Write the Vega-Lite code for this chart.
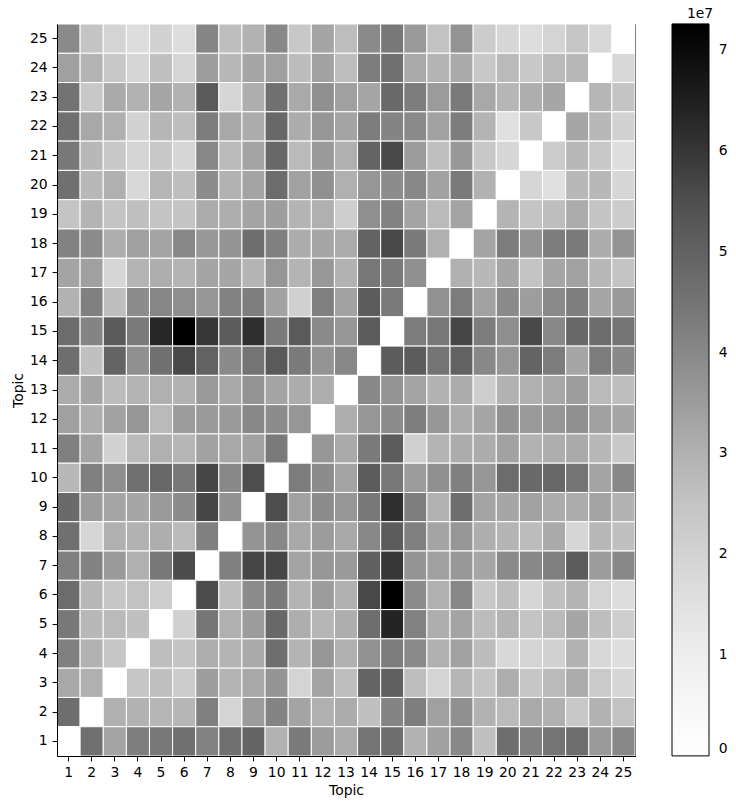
{
"$schema": "https://vega.github.io/schema/vega-lite/v6.json",
"width": 578, "height": 732,
"autosize": {"type": "none"},
"padding": {"left": 57, "top": 24, "right": 101, "bottom": 53},
"background": "white",
"config": {
 "font": "DejaVu Sans",
 "view": {"stroke": "black", "strokeWidth": 1},
 "axis": {"labelFont": "DejaVu Sans", "labelFontSize": 13.9, "labelColor": "black", "titleFont": "DejaVu Sans", "titleFontSize": 13.9, "titleFontWeight": "normal", "titleColor": "black", "tickColor": "black", "tickSize": 4.9, "tickWidth": 1, "labelPadding": 4.9, "domainColor": "black", "domainWidth": 1, "grid": false}
},
"data": {"values": [
{"y":25,"x":1,"v":3.94e7},{"y":25,"x":2,"v":2.49e7},{"y":25,"x":3,"v":1.97e7},{"y":25,"x":4,"v":1.66e7},{"y":25,"x":5,"v":2.04e7},{"y":25,"x":6,"v":1.66e7},{"y":25,"x":7,"v":4.07e7},{"y":25,"x":8,"v":2.69e7},{"y":25,"x":9,"v":2.97e7},{"y":25,"x":10,"v":3.99e7},{"y":25,"x":11,"v":2.36e7},{"y":25,"x":12,"v":3.30e7},{"y":25,"x":13,"v":2.72e7},{"y":25,"x":14,"v":3.94e7},{"y":25,"x":15,"v":4.40e7},{"y":25,"x":16,"v":3.53e7},{"y":25,"x":17,"v":2.56e7},{"y":25,"x":18,"v":3.70e7},{"y":25,"x":19,"v":2.23e7},{"y":25,"x":20,"v":1.91e7},{"y":25,"x":21,"v":1.66e7},{"y":25,"x":22,"v":1.97e7},{"y":25,"x":23,"v":2.43e7},{"y":25,"x":24,"v":1.84e7},{"y":25,"x":25,"v":0},
{"y":24,"x":1,"v":3.39e7},{"y":24,"x":2,"v":2.93e7},{"y":24,"x":3,"v":2.36e7},{"y":24,"x":4,"v":1.91e7},{"y":24,"x":5,"v":2.62e7},{"y":24,"x":6,"v":1.91e7},{"y":24,"x":7,"v":3.44e7},{"y":24,"x":8,"v":2.84e7},{"y":24,"x":9,"v":3.25e7},{"y":24,"x":10,"v":3.39e7},{"y":24,"x":11,"v":2.74e7},{"y":24,"x":12,"v":3.35e7},{"y":24,"x":13,"v":2.69e7},{"y":24,"x":14,"v":4.27e7},{"y":24,"x":15,"v":4.61e7},{"y":24,"x":16,"v":3.16e7},{"y":24,"x":17,"v":2.93e7},{"y":24,"x":18,"v":3.16e7},{"y":24,"x":19,"v":2.36e7},{"y":24,"x":20,"v":2.79e7},{"y":24,"x":21,"v":2.36e7},{"y":24,"x":22,"v":2.79e7},{"y":24,"x":23,"v":2.84e7},{"y":24,"x":24,"v":0},{"y":24,"x":25,"v":1.84e7},
{"y":23,"x":1,"v":4.53e7},{"y":23,"x":2,"v":2.36e7},{"y":23,"x":3,"v":3.16e7},{"y":23,"x":4,"v":2.97e7},{"y":23,"x":5,"v":3.25e7},{"y":23,"x":6,"v":2.97e7},{"y":23,"x":7,"v":5.22e7},{"y":23,"x":8,"v":1.91e7},{"y":23,"x":9,"v":3.07e7},{"y":23,"x":10,"v":4.61e7},{"y":23,"x":11,"v":3.16e7},{"y":23,"x":12,"v":3.78e7},{"y":23,"x":13,"v":3.39e7},{"y":23,"x":14,"v":3.28e7},{"y":23,"x":15,"v":4.81e7},{"y":23,"x":16,"v":4.27e7},{"y":23,"x":17,"v":3.51e7},{"y":23,"x":18,"v":4.35e7},{"y":23,"x":19,"v":3.21e7},{"y":23,"x":20,"v":2.88e7},{"y":23,"x":21,"v":3.07e7},{"y":23,"x":22,"v":3.25e7},{"y":23,"x":23,"v":0},{"y":23,"x":24,"v":2.88e7},{"y":23,"x":25,"v":2.49e7},
{"y":22,"x":1,"v":4.61e7},{"y":22,"x":2,"v":3.21e7},{"y":22,"x":3,"v":3.02e7},{"y":22,"x":4,"v":2.04e7},{"y":22,"x":5,"v":2.88e7},{"y":22,"x":6,"v":2.69e7},{"y":22,"x":7,"v":4.30e7},{"y":22,"x":8,"v":3.21e7},{"y":22,"x":9,"v":3.11e7},{"y":22,"x":10,"v":4.83e7},{"y":22,"x":11,"v":3.11e7},{"y":22,"x":12,"v":3.63e7},{"y":22,"x":13,"v":3.30e7},{"y":22,"x":14,"v":4.27e7},{"y":22,"x":15,"v":4.09e7},{"y":22,"x":16,"v":3.94e7},{"y":22,"x":17,"v":3.35e7},{"y":22,"x":18,"v":4.27e7},{"y":22,"x":19,"v":2.93e7},{"y":22,"x":20,"v":1.54e7},{"y":22,"x":21,"v":2.36e7},{"y":22,"x":22,"v":0},{"y":22,"x":23,"v":3.25e7},{"y":22,"x":24,"v":2.84e7},{"y":22,"x":25,"v":2.04e7},
{"y":21,"x":1,"v":4.40e7},{"y":21,"x":2,"v":2.84e7},{"y":21,"x":3,"v":2.36e7},{"y":21,"x":4,"v":1.97e7},{"y":21,"x":5,"v":2.36e7},{"y":21,"x":6,"v":1.91e7},{"y":21,"x":7,"v":3.99e7},{"y":21,"x":8,"v":2.79e7},{"y":21,"x":9,"v":3.30e7},{"y":21,"x":10,"v":4.83e7},{"y":21,"x":11,"v":2.79e7},{"y":21,"x":12,"v":3.53e7},{"y":21,"x":13,"v":3.02e7},{"y":21,"x":14,"v":4.94e7},{"y":21,"x":15,"v":5.64e7},{"y":21,"x":16,"v":3.49e7},{"y":21,"x":17,"v":2.62e7},{"y":21,"x":18,"v":3.58e7},{"y":21,"x":19,"v":2.36e7},{"y":21,"x":20,"v":1.91e7},{"y":21,"x":21,"v":0},{"y":21,"x":22,"v":2.23e7},{"y":21,"x":23,"v":2.84e7},{"y":21,"x":24,"v":2.36e7},{"y":21,"x":25,"v":1.62e7},
{"y":20,"x":1,"v":4.61e7},{"y":20,"x":2,"v":2.84e7},{"y":20,"x":3,"v":3.02e7},{"y":20,"x":4,"v":1.84e7},{"y":20,"x":5,"v":2.88e7},{"y":20,"x":6,"v":2.69e7},{"y":20,"x":7,"v":3.88e7},{"y":20,"x":8,"v":2.97e7},{"y":20,"x":9,"v":3.30e7},{"y":20,"x":10,"v":4.72e7},{"y":20,"x":11,"v":3.35e7},{"y":20,"x":12,"v":3.78e7},{"y":20,"x":13,"v":3.02e7},{"y":20,"x":14,"v":3.63e7},{"y":20,"x":15,"v":3.88e7},{"y":20,"x":16,"v":3.99e7},{"y":20,"x":17,"v":3.35e7},{"y":20,"x":18,"v":4.35e7},{"y":20,"x":19,"v":2.97e7},{"y":20,"x":20,"v":0},{"y":20,"x":21,"v":1.91e7},{"y":20,"x":22,"v":1.54e7},{"y":20,"x":23,"v":2.84e7},{"y":20,"x":24,"v":2.84e7},{"y":20,"x":25,"v":1.91e7},
{"y":19,"x":1,"v":2.49e7},{"y":19,"x":2,"v":2.93e7},{"y":19,"x":3,"v":2.49e7},{"y":19,"x":4,"v":2.62e7},{"y":19,"x":5,"v":2.49e7},{"y":19,"x":6,"v":2.49e7},{"y":19,"x":7,"v":3.11e7},{"y":19,"x":8,"v":3.07e7},{"y":19,"x":9,"v":3.30e7},{"y":19,"x":10,"v":3.44e7},{"y":19,"x":11,"v":2.93e7},{"y":19,"x":12,"v":3.02e7},{"y":19,"x":13,"v":2.17e7},{"y":19,"x":14,"v":3.78e7},{"y":19,"x":15,"v":4.14e7},{"y":19,"x":16,"v":3.30e7},{"y":19,"x":17,"v":2.79e7},{"y":19,"x":18,"v":3.30e7},{"y":19,"x":19,"v":0},{"y":19,"x":20,"v":2.93e7},{"y":19,"x":21,"v":2.49e7},{"y":19,"x":22,"v":2.69e7},{"y":19,"x":23,"v":3.11e7},{"y":19,"x":24,"v":2.49e7},{"y":19,"x":25,"v":2.23e7},
{"y":18,"x":1,"v":4.14e7},{"y":18,"x":2,"v":3.88e7},{"y":18,"x":3,"v":3.07e7},{"y":18,"x":4,"v":3.39e7},{"y":18,"x":5,"v":3.30e7},{"y":18,"x":6,"v":3.99e7},{"y":18,"x":7,"v":3.58e7},{"y":18,"x":8,"v":3.68e7},{"y":18,"x":9,"v":4.67e7},{"y":18,"x":10,"v":4.20e7},{"y":18,"x":11,"v":3.11e7},{"y":18,"x":12,"v":3.25e7},{"y":18,"x":13,"v":3.11e7},{"y":18,"x":14,"v":5.00e7},{"y":18,"x":15,"v":5.64e7},{"y":18,"x":16,"v":4.35e7},{"y":18,"x":17,"v":3.02e7},{"y":18,"x":18,"v":0},{"y":18,"x":19,"v":3.30e7},{"y":18,"x":20,"v":4.27e7},{"y":18,"x":21,"v":3.68e7},{"y":18,"x":22,"v":4.27e7},{"y":18,"x":23,"v":4.35e7},{"y":18,"x":24,"v":3.11e7},{"y":18,"x":25,"v":3.68e7},
{"y":17,"x":1,"v":3.30e7},{"y":17,"x":2,"v":3.39e7},{"y":17,"x":3,"v":1.91e7},{"y":17,"x":4,"v":2.93e7},{"y":17,"x":5,"v":3.07e7},{"y":17,"x":6,"v":2.93e7},{"y":17,"x":7,"v":3.30e7},{"y":17,"x":8,"v":3.25e7},{"y":17,"x":9,"v":2.93e7},{"y":17,"x":10,"v":3.63e7},{"y":17,"x":11,"v":2.93e7},{"y":17,"x":12,"v":3.58e7},{"y":17,"x":13,"v":2.97e7},{"y":17,"x":14,"v":4.40e7},{"y":17,"x":15,"v":4.35e7},{"y":17,"x":16,"v":3.78e7},{"y":17,"x":17,"v":0},{"y":17,"x":18,"v":3.02e7},{"y":17,"x":19,"v":2.84e7},{"y":17,"x":20,"v":3.25e7},{"y":17,"x":21,"v":2.49e7},{"y":17,"x":22,"v":3.25e7},{"y":17,"x":23,"v":3.35e7},{"y":17,"x":24,"v":2.84e7},{"y":17,"x":25,"v":2.49e7},
{"y":16,"x":1,"v":2.97e7},{"y":16,"x":2,"v":4.20e7},{"y":16,"x":3,"v":2.69e7},{"y":16,"x":4,"v":3.88e7},{"y":16,"x":5,"v":4.04e7},{"y":16,"x":6,"v":3.83e7},{"y":16,"x":7,"v":3.63e7},{"y":16,"x":8,"v":4.14e7},{"y":16,"x":9,"v":4.25e7},{"y":16,"x":10,"v":3.35e7},{"y":16,"x":11,"v":2.10e7},{"y":16,"x":12,"v":4.20e7},{"y":16,"x":13,"v":3.35e7},{"y":16,"x":14,"v":5.16e7},{"y":16,"x":15,"v":4.35e7},{"y":16,"x":16,"v":0},{"y":16,"x":17,"v":3.73e7},{"y":16,"x":18,"v":4.30e7},{"y":16,"x":19,"v":3.35e7},{"y":16,"x":20,"v":3.94e7},{"y":16,"x":21,"v":3.44e7},{"y":16,"x":22,"v":3.94e7},{"y":16,"x":23,"v":4.25e7},{"y":16,"x":24,"v":3.25e7},{"y":16,"x":25,"v":3.53e7},
{"y":15,"x":1,"v":4.72e7},{"y":15,"x":2,"v":4.09e7},{"y":15,"x":3,"v":5.22e7},{"y":15,"x":4,"v":4.35e7},{"y":15,"x":5,"v":6.32e7},{"y":15,"x":6,"v":7.26e7},{"y":15,"x":7,"v":5.98e7},{"y":15,"x":8,"v":5.16e7},{"y":15,"x":9,"v":6.18e7},{"y":15,"x":10,"v":4.35e7},{"y":15,"x":11,"v":5.22e7},{"y":15,"x":12,"v":3.94e7},{"y":15,"x":13,"v":3.63e7},{"y":15,"x":14,"v":5.16e7},{"y":15,"x":15,"v":0},{"y":15,"x":16,"v":4.30e7},{"y":15,"x":17,"v":4.40e7},{"y":15,"x":18,"v":5.68e7},{"y":15,"x":19,"v":4.30e7},{"y":15,"x":20,"v":3.83e7},{"y":15,"x":21,"v":5.64e7},{"y":15,"x":22,"v":3.99e7},{"y":15,"x":23,"v":4.83e7},{"y":15,"x":24,"v":4.72e7},{"y":15,"x":25,"v":4.51e7},
{"y":14,"x":1,"v":4.67e7},{"y":14,"x":2,"v":2.62e7},{"y":14,"x":3,"v":4.94e7},{"y":14,"x":4,"v":3.78e7},{"y":14,"x":5,"v":4.61e7},{"y":14,"x":6,"v":5.64e7},{"y":14,"x":7,"v":5.00e7},{"y":14,"x":8,"v":3.94e7},{"y":14,"x":9,"v":4.51e7},{"y":14,"x":10,"v":5.22e7},{"y":14,"x":11,"v":4.35e7},{"y":14,"x":12,"v":3.68e7},{"y":14,"x":13,"v":3.99e7},{"y":14,"x":14,"v":0},{"y":14,"x":15,"v":5.16e7},{"y":14,"x":16,"v":5.16e7},{"y":14,"x":17,"v":4.51e7},{"y":14,"x":18,"v":5.00e7},{"y":14,"x":19,"v":3.99e7},{"y":14,"x":20,"v":3.63e7},{"y":14,"x":21,"v":4.94e7},{"y":14,"x":22,"v":4.30e7},{"y":14,"x":23,"v":3.25e7},{"y":14,"x":24,"v":4.30e7},{"y":14,"x":25,"v":3.99e7},
{"y":13,"x":1,"v":3.11e7},{"y":13,"x":2,"v":3.25e7},{"y":13,"x":3,"v":2.74e7},{"y":13,"x":4,"v":2.93e7},{"y":13,"x":5,"v":3.02e7},{"y":13,"x":6,"v":2.97e7},{"y":13,"x":7,"v":3.53e7},{"y":13,"x":8,"v":3.21e7},{"y":13,"x":9,"v":3.68e7},{"y":13,"x":10,"v":3.30e7},{"y":13,"x":11,"v":3.11e7},{"y":13,"x":12,"v":3.07e7},{"y":13,"x":13,"v":0},{"y":13,"x":14,"v":3.99e7},{"y":13,"x":15,"v":3.68e7},{"y":13,"x":16,"v":3.30e7},{"y":13,"x":17,"v":2.97e7},{"y":13,"x":18,"v":3.11e7},{"y":13,"x":19,"v":2.17e7},{"y":13,"x":20,"v":2.97e7},{"y":13,"x":21,"v":3.02e7},{"y":13,"x":22,"v":3.21e7},{"y":13,"x":23,"v":3.44e7},{"y":13,"x":24,"v":2.79e7},{"y":13,"x":25,"v":2.69e7},
{"y":12,"x":1,"v":3.39e7},{"y":12,"x":2,"v":3.07e7},{"y":12,"x":3,"v":3.35e7},{"y":12,"x":4,"v":3.63e7},{"y":12,"x":5,"v":2.79e7},{"y":12,"x":6,"v":3.49e7},{"y":12,"x":7,"v":3.53e7},{"y":12,"x":8,"v":3.53e7},{"y":12,"x":9,"v":3.99e7},{"y":12,"x":10,"v":3.88e7},{"y":12,"x":11,"v":3.63e7},{"y":12,"x":12,"v":0},{"y":12,"x":13,"v":3.07e7},{"y":12,"x":14,"v":3.63e7},{"y":12,"x":15,"v":3.88e7},{"y":12,"x":16,"v":4.25e7},{"y":12,"x":17,"v":3.63e7},{"y":12,"x":18,"v":3.11e7},{"y":12,"x":19,"v":3.25e7},{"y":12,"x":20,"v":3.73e7},{"y":12,"x":21,"v":3.53e7},{"y":12,"x":22,"v":3.63e7},{"y":12,"x":23,"v":3.78e7},{"y":12,"x":24,"v":3.39e7},{"y":12,"x":25,"v":3.25e7},
{"y":11,"x":1,"v":4.20e7},{"y":11,"x":2,"v":3.30e7},{"y":11,"x":3,"v":2.04e7},{"y":11,"x":4,"v":2.79e7},{"y":11,"x":5,"v":3.02e7},{"y":11,"x":6,"v":2.88e7},{"y":11,"x":7,"v":3.35e7},{"y":11,"x":8,"v":3.21e7},{"y":11,"x":9,"v":3.35e7},{"y":11,"x":10,"v":4.35e7},{"y":11,"x":11,"v":0},{"y":11,"x":12,"v":3.63e7},{"y":11,"x":13,"v":3.16e7},{"y":11,"x":14,"v":4.35e7},{"y":11,"x":15,"v":5.16e7},{"y":11,"x":16,"v":2.10e7},{"y":11,"x":17,"v":2.93e7},{"y":11,"x":18,"v":3.11e7},{"y":11,"x":19,"v":3.11e7},{"y":11,"x":20,"v":3.35e7},{"y":11,"x":21,"v":2.97e7},{"y":11,"x":22,"v":3.07e7},{"y":11,"x":23,"v":3.16e7},{"y":11,"x":24,"v":2.84e7},{"y":11,"x":25,"v":2.36e7},
{"y":10,"x":1,"v":2.84e7},{"y":10,"x":2,"v":4.20e7},{"y":10,"x":3,"v":3.83e7},{"y":10,"x":4,"v":4.61e7},{"y":10,"x":5,"v":4.83e7},{"y":10,"x":6,"v":4.40e7},{"y":10,"x":7,"v":5.68e7},{"y":10,"x":8,"v":3.99e7},{"y":10,"x":9,"v":5.52e7},{"y":10,"x":10,"v":0},{"y":10,"x":11,"v":4.30e7},{"y":10,"x":12,"v":3.88e7},{"y":10,"x":13,"v":3.30e7},{"y":10,"x":14,"v":5.16e7},{"y":10,"x":15,"v":4.40e7},{"y":10,"x":16,"v":3.49e7},{"y":10,"x":17,"v":3.78e7},{"y":10,"x":18,"v":4.20e7},{"y":10,"x":19,"v":3.63e7},{"y":10,"x":20,"v":4.72e7},{"y":10,"x":21,"v":4.78e7},{"y":10,"x":22,"v":4.83e7},{"y":10,"x":23,"v":4.51e7},{"y":10,"x":24,"v":3.30e7},{"y":10,"x":25,"v":3.99e7},
{"y":9,"x":1,"v":4.78e7},{"y":9,"x":2,"v":3.49e7},{"y":9,"x":3,"v":3.25e7},{"y":9,"x":4,"v":3.25e7},{"y":9,"x":5,"v":3.53e7},{"y":9,"x":6,"v":3.88e7},{"y":9,"x":7,"v":5.68e7},{"y":9,"x":8,"v":3.73e7},{"y":9,"x":9,"v":0},{"y":9,"x":10,"v":5.52e7},{"y":9,"x":11,"v":3.35e7},{"y":9,"x":12,"v":3.88e7},{"y":9,"x":13,"v":3.63e7},{"y":9,"x":14,"v":4.40e7},{"y":9,"x":15,"v":6.18e7},{"y":9,"x":16,"v":4.25e7},{"y":9,"x":17,"v":2.97e7},{"y":9,"x":18,"v":4.67e7},{"y":9,"x":19,"v":3.30e7},{"y":9,"x":20,"v":3.25e7},{"y":9,"x":21,"v":3.35e7},{"y":9,"x":22,"v":3.11e7},{"y":9,"x":23,"v":3.11e7},{"y":9,"x":24,"v":3.30e7},{"y":9,"x":25,"v":2.97e7},
{"y":8,"x":1,"v":4.61e7},{"y":8,"x":2,"v":1.91e7},{"y":8,"x":3,"v":3.02e7},{"y":8,"x":4,"v":2.97e7},{"y":8,"x":5,"v":3.07e7},{"y":8,"x":6,"v":2.79e7},{"y":8,"x":7,"v":4.20e7},{"y":8,"x":8,"v":0},{"y":8,"x":9,"v":3.68e7},{"y":8,"x":10,"v":3.99e7},{"y":8,"x":11,"v":3.21e7},{"y":8,"x":12,"v":3.49e7},{"y":8,"x":13,"v":3.21e7},{"y":8,"x":14,"v":3.99e7},{"y":8,"x":15,"v":5.16e7},{"y":8,"x":16,"v":4.20e7},{"y":8,"x":17,"v":3.30e7},{"y":8,"x":18,"v":3.63e7},{"y":8,"x":19,"v":3.07e7},{"y":8,"x":20,"v":2.93e7},{"y":8,"x":21,"v":2.74e7},{"y":8,"x":22,"v":3.16e7},{"y":8,"x":23,"v":1.91e7},{"y":8,"x":24,"v":2.84e7},{"y":8,"x":25,"v":2.62e7},
{"y":7,"x":1,"v":4.20e7},{"y":7,"x":2,"v":4.14e7},{"y":7,"x":3,"v":3.53e7},{"y":7,"x":4,"v":3.02e7},{"y":7,"x":5,"v":4.40e7},{"y":7,"x":6,"v":5.56e7},{"y":7,"x":7,"v":0},{"y":7,"x":8,"v":4.20e7},{"y":7,"x":9,"v":5.68e7},{"y":7,"x":10,"v":5.68e7},{"y":7,"x":11,"v":3.30e7},{"y":7,"x":12,"v":3.63e7},{"y":7,"x":13,"v":3.53e7},{"y":7,"x":14,"v":5.05e7},{"y":7,"x":15,"v":5.98e7},{"y":7,"x":16,"v":3.68e7},{"y":7,"x":17,"v":3.39e7},{"y":7,"x":18,"v":3.58e7},{"y":7,"x":19,"v":3.25e7},{"y":7,"x":20,"v":3.94e7},{"y":7,"x":21,"v":3.99e7},{"y":7,"x":22,"v":4.20e7},{"y":7,"x":23,"v":5.16e7},{"y":7,"x":24,"v":3.49e7},{"y":7,"x":25,"v":3.99e7},
{"y":6,"x":1,"v":4.72e7},{"y":6,"x":2,"v":2.84e7},{"y":6,"x":3,"v":2.43e7},{"y":6,"x":4,"v":2.56e7},{"y":6,"x":5,"v":2.17e7},{"y":6,"x":6,"v":0},{"y":6,"x":7,"v":5.56e7},{"y":6,"x":8,"v":2.69e7},{"y":6,"x":9,"v":3.88e7},{"y":6,"x":10,"v":4.35e7},{"y":6,"x":11,"v":2.93e7},{"y":6,"x":12,"v":3.49e7},{"y":6,"x":13,"v":3.02e7},{"y":6,"x":14,"v":5.64e7},{"y":6,"x":15,"v":7.26e7},{"y":6,"x":16,"v":3.88e7},{"y":6,"x":17,"v":3.02e7},{"y":6,"x":18,"v":3.99e7},{"y":6,"x":19,"v":2.36e7},{"y":6,"x":20,"v":2.69e7},{"y":6,"x":21,"v":1.91e7},{"y":6,"x":22,"v":2.62e7},{"y":6,"x":23,"v":2.93e7},{"y":6,"x":24,"v":1.97e7},{"y":6,"x":25,"v":1.69e7},
{"y":5,"x":1,"v":4.40e7},{"y":5,"x":2,"v":2.84e7},{"y":5,"x":3,"v":2.79e7},{"y":5,"x":4,"v":2.62e7},{"y":5,"x":5,"v":0},{"y":5,"x":6,"v":2.10e7},{"y":5,"x":7,"v":4.45e7},{"y":5,"x":8,"v":3.02e7},{"y":5,"x":9,"v":3.49e7},{"y":5,"x":10,"v":4.83e7},{"y":5,"x":11,"v":3.07e7},{"y":5,"x":12,"v":2.88e7},{"y":5,"x":13,"v":3.07e7},{"y":5,"x":14,"v":4.67e7},{"y":5,"x":15,"v":6.37e7},{"y":5,"x":16,"v":4.14e7},{"y":5,"x":17,"v":3.07e7},{"y":5,"x":18,"v":3.30e7},{"y":5,"x":19,"v":2.74e7},{"y":5,"x":20,"v":2.93e7},{"y":5,"x":21,"v":2.49e7},{"y":5,"x":22,"v":2.79e7},{"y":5,"x":23,"v":3.25e7},{"y":5,"x":24,"v":2.69e7},{"y":5,"x":25,"v":2.17e7},
{"y":4,"x":1,"v":4.20e7},{"y":4,"x":2,"v":2.97e7},{"y":4,"x":3,"v":2.43e7},{"y":4,"x":4,"v":0},{"y":4,"x":5,"v":2.69e7},{"y":4,"x":6,"v":2.49e7},{"y":4,"x":7,"v":3.07e7},{"y":4,"x":8,"v":2.93e7},{"y":4,"x":9,"v":3.16e7},{"y":4,"x":10,"v":4.67e7},{"y":4,"x":11,"v":2.93e7},{"y":4,"x":12,"v":3.63e7},{"y":4,"x":13,"v":3.02e7},{"y":4,"x":14,"v":3.73e7},{"y":4,"x":15,"v":4.30e7},{"y":4,"x":16,"v":3.94e7},{"y":4,"x":17,"v":3.02e7},{"y":4,"x":18,"v":3.35e7},{"y":4,"x":19,"v":2.74e7},{"y":4,"x":20,"v":1.84e7},{"y":4,"x":21,"v":1.97e7},{"y":4,"x":22,"v":2.04e7},{"y":4,"x":23,"v":2.97e7},{"y":4,"x":24,"v":1.84e7},{"y":4,"x":25,"v":1.62e7},
{"y":3,"x":1,"v":3.21e7},{"y":3,"x":2,"v":3.02e7},{"y":3,"x":3,"v":0},{"y":3,"x":4,"v":2.43e7},{"y":3,"x":5,"v":2.62e7},{"y":3,"x":6,"v":2.23e7},{"y":3,"x":7,"v":3.44e7},{"y":3,"x":8,"v":2.93e7},{"y":3,"x":9,"v":3.21e7},{"y":3,"x":10,"v":3.68e7},{"y":3,"x":11,"v":1.97e7},{"y":3,"x":12,"v":3.30e7},{"y":3,"x":13,"v":2.69e7},{"y":3,"x":14,"v":4.94e7},{"y":3,"x":15,"v":5.05e7},{"y":3,"x":16,"v":2.69e7},{"y":3,"x":17,"v":1.97e7},{"y":3,"x":18,"v":2.88e7},{"y":3,"x":19,"v":2.49e7},{"y":3,"x":20,"v":3.07e7},{"y":3,"x":21,"v":2.43e7},{"y":3,"x":22,"v":2.79e7},{"y":3,"x":23,"v":3.11e7},{"y":3,"x":24,"v":2.30e7},{"y":3,"x":25,"v":1.91e7},
{"y":2,"x":1,"v":4.67e7},{"y":2,"x":2,"v":0},{"y":2,"x":3,"v":3.02e7},{"y":2,"x":4,"v":2.97e7},{"y":2,"x":5,"v":2.88e7},{"y":2,"x":6,"v":2.88e7},{"y":2,"x":7,"v":4.20e7},{"y":2,"x":8,"v":1.97e7},{"y":2,"x":9,"v":3.49e7},{"y":2,"x":10,"v":4.09e7},{"y":2,"x":11,"v":3.30e7},{"y":2,"x":12,"v":3.02e7},{"y":2,"x":13,"v":3.11e7},{"y":2,"x":14,"v":2.62e7},{"y":2,"x":15,"v":4.09e7},{"y":2,"x":16,"v":4.25e7},{"y":2,"x":17,"v":3.39e7},{"y":2,"x":18,"v":3.78e7},{"y":2,"x":19,"v":2.97e7},{"y":2,"x":20,"v":2.79e7},{"y":2,"x":21,"v":3.16e7},{"y":2,"x":22,"v":3.02e7},{"y":2,"x":23,"v":2.36e7},{"y":2,"x":24,"v":2.97e7},{"y":2,"x":25,"v":2.56e7},
{"y":1,"x":1,"v":0},{"y":1,"x":2,"v":4.61e7},{"y":1,"x":3,"v":3.30e7},{"y":1,"x":4,"v":4.25e7},{"y":1,"x":5,"v":4.40e7},{"y":1,"x":6,"v":4.61e7},{"y":1,"x":7,"v":4.14e7},{"y":1,"x":8,"v":4.61e7},{"y":1,"x":9,"v":4.94e7},{"y":1,"x":10,"v":2.97e7},{"y":1,"x":11,"v":4.35e7},{"y":1,"x":12,"v":3.49e7},{"y":1,"x":13,"v":3.11e7},{"y":1,"x":14,"v":4.51e7},{"y":1,"x":15,"v":4.67e7},{"y":1,"x":16,"v":2.97e7},{"y":1,"x":17,"v":3.39e7},{"y":1,"x":18,"v":3.99e7},{"y":1,"x":19,"v":2.62e7},{"y":1,"x":20,"v":4.67e7},{"y":1,"x":21,"v":4.20e7},{"y":1,"x":22,"v":4.51e7},{"y":1,"x":23,"v":4.67e7},{"y":1,"x":24,"v":3.53e7},{"y":1,"x":25,"v":3.99e7}
]},
"mark": {"type": "rect", "stroke": "white", "strokeWidth": 1},
"encoding": {
 "x": {"field": "x", "type": "ordinal", "title": "Topic", "scale": {"paddingInner": 0, "paddingOuter": 0}, "axis": {"labelAngle": 0}},
 "y": {"field": "y", "type": "ordinal", "sort": "descending", "title": "Topic", "scale": {"paddingInner": 0, "paddingOuter": 0}},
 "color": {"field": "v", "type": "quantitative",
  "scale": {"domain": [0, 9075000, 18150000, 27225000, 36300000, 45375000, 54450000, 63525000, 72600000], "range": ["#ffffff", "#f0f0f0", "#d9d9d9", "#bdbdbd", "#969696", "#737373", "#525252", "#252525", "#000000"], "interpolate": "rgb"},
  "legend": {"orient": "none", "legendX": 615, "legendY": -17, "direction": "vertical", "gradientLength": 732, "gradientThickness": 37, "gradientStrokeColor": "black", "gradientStrokeWidth": 1, "values": [0, 10000000, 20000000, 30000000, 40000000, 50000000, 60000000, 70000000], "labelExpr": "datum.value / 10000000", "labelFont": "DejaVu Sans", "labelFontSize": 13.9, "labelColor": "black", "labelOffset": 9.7, "labelOverlap": false, "title": "1e7", "titleFont": "DejaVu Sans", "titleFontSize": 13.9, "titleFontWeight": "normal", "titleColor": "black", "titleAnchor": "middle", "titlePadding": 3}}
}
}
